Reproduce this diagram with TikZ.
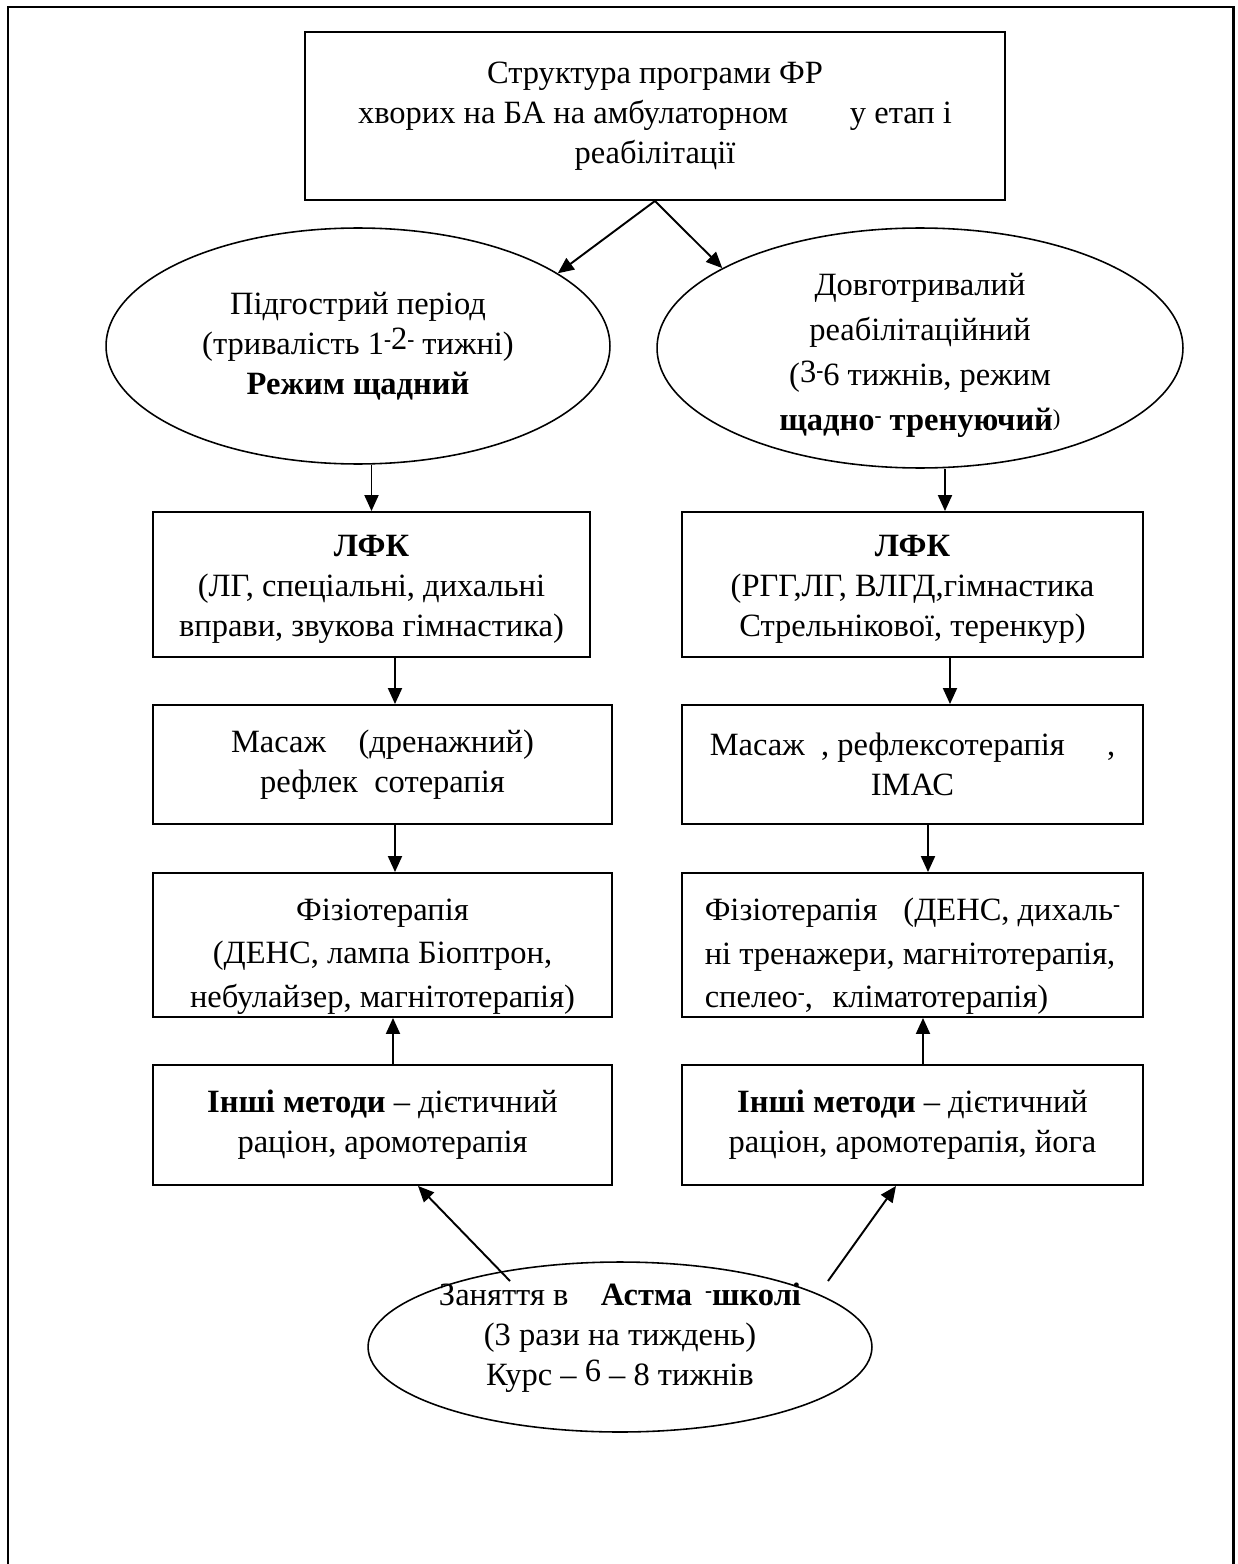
\documentclass[tikz,border=0pt]{standalone}
\usepackage{fontspec}
\setmainfont{Liberation Serif}
\usetikzlibrary{arrows.meta, shapes.geometric}

% піднятий дефіс
\newcommand{\uh}{\raisebox{0.55ex}{\fontsize{12}{12}\selectfont\textbf{-}}}

\begin{document}
\begin{tikzpicture}[x=0.02cm, y=-0.02cm, >={Triangle[length=0.32cm, width=0.28cm]},
    line width=1.1pt, font=\fontsize{18.5}{22.8}\selectfont]

    \useasboundingbox (0,0) rectangle (1237,1564);

    % Рамка
    \draw[line width=1.7pt] (8,1564) -- (8,7) -- (1233,7) -- (1233,1564);

    % Заголовок
    \node[draw, rectangle, minimum width=14cm, minimum height=3.36cm,
          align=center] (title) at (655,116)
        {Структура програми ФР\\
         хворих на БА на амбулаторном\hspace{1.9em}у етап і\\
         реабілітації};

    % Періоди
\node[
    draw,
    ellipse,
    line width=0.9pt,
    minimum width=10.08cm,
    minimum height=4.72cm,
    inner sep=-0.3cm,
    align=center
] (acute) at (358,346)
    {Підгострий період\\
     (тривалість 1\uh\raisebox{0.3ex}{2}\uh{} тижні)\\
     \textbf{Режим щадний}};

\node[
    draw,
    ellipse,
    line width=0.9pt,
    minimum width=10.52cm,
    minimum height=4.8cm,
    inner sep=-0.3cm,
    align=center,
    font=\fontsize{18.5}{25.6}\selectfont
] (long) at (920,348)
    {\rule{0pt}{0.74cm}Довготривалий\\
     реабілітаційний\\
     (\raisebox{0.2ex}{3}\uh 6 тижнів, режим\\
     \textbf{щадно\uh{} тренуючий}\raisebox{0.3ex}{\fontsize{13}{13}\selectfont )}};

    % ЛФК
    \node[draw, rectangle, minimum width=8.74cm, minimum height=2.9cm,
          align=center] (lfkA) at (371.5,584.5)
        {\rule{0pt}{0.62cm}\textbf{ЛФК}\\(ЛГ, спеціальні, дихальні\\вправи, звукова гімнастика)};
    \node[draw, rectangle, minimum width=9.22cm, minimum height=2.9cm,
          align=center] (lfkB) at (912.5,584.5)
        {\rule{0pt}{0.62cm}\textbf{ЛФК}\\(РГГ,ЛГ, ВЛГД,гімнастика\\Стрельнікової, теренкур)};

    % Масаж
    \node[draw, rectangle, minimum width=9.18cm, minimum height=2.38cm,
          align=center] (masA) at (382.5,764.5)
        {Масаж\hspace{1em}(дренажний)\\рефлек\hspace{0.5em}сотерапія};
    \node[draw, rectangle, minimum width=9.22cm, minimum height=2.38cm,
          align=center] (masB) at (912.5,764.5)
        {Масаж\hspace{0.5em}, рефлексотерапія\hspace{1.3em},\\ІМАС};

    % Фізіотерапія
    \node[draw, rectangle, minimum width=9.18cm, minimum height=2.88cm, inner ysep=0pt,
          align=center, font=\fontsize{18.5}{25}\selectfont] (fizA) at (382.5,945)
        {\rule{0pt}{0.9cm}Фізіотерапія\\(ДЕНС, лампа Біоптрон,\\небулайзер, магнітотерапія)};
    \node[draw, rectangle, minimum width=9.22cm, minimum height=2.88cm, inner ysep=0pt,
          align=left, font=\fontsize{18.5}{25}\selectfont] (fizB) at (912.5,945)
        {\rule{0pt}{0.9cm}Фізіотерапія\hspace{0.8em}(ДЕНС, дихаль\uh\\
         ні тренажери, магнітотерапія,\\
         спелео\uh,\hspace{0.6em}кліматотерапія)};

    % Інші методи
    \node[draw, rectangle, minimum width=9.18cm, minimum height=2.4cm,
          align=center] (othA) at (382.5,1125)
        {\textbf{Інші методи} -- дієтичний\\раціон, аромотерапія};
    \node[draw, rectangle, minimum width=9.22cm, minimum height=2.4cm,
          align=center] (othB) at (912.5,1125)
        {\textbf{Інші методи} -- дієтичний\\раціон, аромотерапія, йога};

    % Астма-школа
    \node[draw, ellipse, line width=0.9pt, minimum width=10.08cm,
          minimum height=3.4cm, inner sep=-0.3cm, align=center] (school) at (620,1347)
        {Заняття в\hspace{1em}\textbf{Астма\hspace{0.4em}\uh школі}\\
         (3 рази на тиждень)\\
         Курс -- \raisebox{0.3ex}{6} -- 8 тижнів\rule[-0.5cm]{0pt}{0.5cm}};

    % Стрілки
    \draw[->] (title.south) -- (acute.20);
    \draw[->] (title.south) -- (long.158);

    \draw[->] (acute.south -| lfkA.north) -- (lfkA.north);
    \draw[->] ([xshift=0.5cm]long.south) -- ([xshift=0.65cm]lfkB.north);

    \draw[->] ([xshift=0.47cm]lfkA.south) -- ([xshift=0.25cm]masA.north);
    \draw[->] ([xshift=0.75cm]lfkB.south) -- ([xshift=0.75cm]masB.north);

    \draw[->] ([xshift=0.25cm]masA.south) -- ([xshift=0.25cm]fizA.north);
    \draw[->] ([xshift=0.31cm]masB.south) -- ([xshift=0.31cm]fizB.north);

    \draw[->] ([xshift=0.21cm]othA.north) -- ([xshift=0.21cm]fizA.south);
    \draw[->] ([xshift=0.21cm]othB.north) -- ([xshift=0.21cm]fizB.south);

    \draw[->] ([shift={(-110,-66)}]school.center) -- ([xshift=0.71cm]othA.south);
    \draw[->] ([shift={(208,-66)}]school.center) -- ([xshift=-0.33cm]othB.south);

\end{tikzpicture}
\end{document}
